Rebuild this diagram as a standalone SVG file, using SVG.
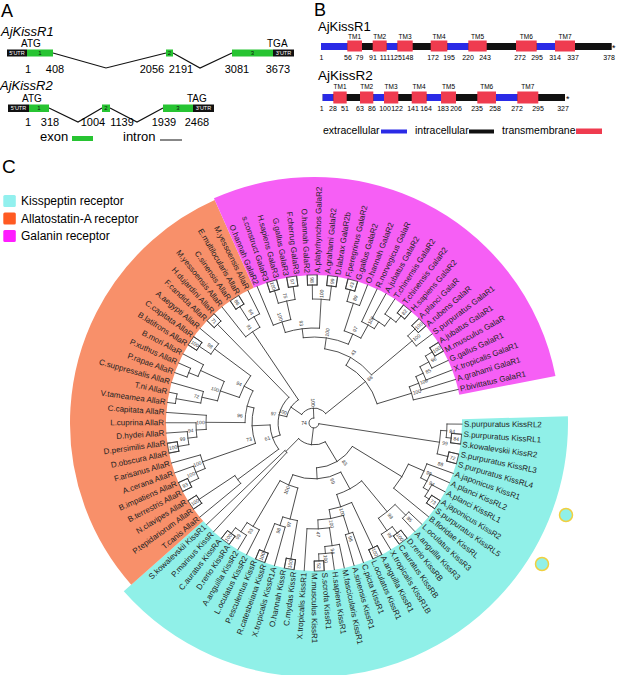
<svg xmlns="http://www.w3.org/2000/svg" width="617" height="675" viewBox="0 0 617 675">
<style>
text{font-family:"Liberation Sans",Arial,sans-serif}
.lf{font-size:8px;fill:#222;dominant-baseline:central}
.e{text-anchor:end}
.bs{font-size:5px;fill:#333;text-anchor:middle;dominant-baseline:central}
.tr path,.tr circle,.tr rect{fill:none;stroke:#333;stroke-width:.8;stroke-linecap:square}
.bx rect{fill:none;stroke:#333;stroke-width:.7}
.n{font-size:11px;text-anchor:middle}
.s{font-size:7px;text-anchor:middle}
.tm{font-size:6.5px;text-anchor:middle}
.ut{font-size:5.5px;fill:#fff;text-anchor:middle}
.ex{font-size:6px;fill:#111;text-anchor:middle}
.w{fill:none}
</style>
<rect width="617" height="675" fill="#fff"/>

<g id="panel-A">
<text x="1" y="17" font-size="18">A</text>
<text x="1" y="36" font-size="13" font-style="italic">AjKissR1</text>
<text x="21" y="47" font-size="10">ATG</text>
<text x="267" y="47" font-size="10">TGA</text>
<polyline points="53,53 106,68 166,53" fill="none" stroke="#111" stroke-width="1.2"/>
<polyline points="173,53 200,68 232,53" fill="none" stroke="#111" stroke-width="1.2"/>
<rect x="7" y="49.5" width="20" height="7" fill="#111"/>
<rect x="27" y="49.5" width="26" height="7" fill="#27c432"/>
<rect x="166" y="49.5" width="7" height="7" fill="#27c432"/>
<rect x="232" y="49.5" width="41" height="7" fill="#27c432"/>
<rect x="273" y="49.5" width="21" height="7" fill="#111"/>
<text class="ut" x="17" y="55">5'UTR</text>
<text class="ex" x="40" y="55">1</text>
<text class="ex" x="169.5" y="55">2</text>
<text class="ex" x="252.5" y="55">3</text>
<text class="ut" x="283.5" y="55">3'UTR</text>
<text class="n" x="28" y="73">1</text>
<text class="n" x="55" y="73">408</text>
<text class="n" x="152" y="73">2056</text>
<text class="n" x="181" y="73">2191</text>
<text class="n" x="237" y="73">3081</text>
<text class="n" x="278" y="73">3673</text>
<text x="0" y="90" font-size="13" font-style="italic">AjKissR2</text>
<text x="22" y="102" font-size="10">ATG</text>
<text x="187" y="102" font-size="10">TAG</text>
<polyline points="49,108 78,122 102,108" fill="none" stroke="#111" stroke-width="1.2"/>
<polyline points="110,108 137,122 163,108" fill="none" stroke="#111" stroke-width="1.2"/>
<rect x="8" y="104.5" width="21" height="7.5" fill="#111"/>
<rect x="29" y="104.5" width="20" height="7.5" fill="#27c432"/>
<rect x="102" y="104.5" width="8" height="7.5" fill="#27c432"/>
<rect x="163" y="104.5" width="30" height="7.5" fill="#27c432"/>
<rect x="193" y="104.5" width="21" height="7.5" fill="#111"/>
<text class="ut" x="18.5" y="110.3">5'UTR</text>
<text class="ex" x="39" y="110.3">1</text>
<text class="ex" x="106" y="110.3">2</text>
<text class="ex" x="178" y="110.3">3</text>
<text class="ut" x="203.5" y="110.3">3'UTR</text>
<text class="n" x="28" y="126">1</text>
<text class="n" x="50" y="126">318</text>
<text class="n" x="93" y="126">1004</text>
<text class="n" x="122" y="126">1139</text>
<text class="n" x="164" y="126">1939</text>
<text class="n" x="197" y="126">2468</text>
<text x="40" y="141" font-size="13">exon</text>
<rect x="72" y="136" width="21" height="5" fill="#27c432"/>
<text x="123" y="141" font-size="13">intron</text>
<line x1="160" y1="140" x2="182" y2="140" stroke="#111" stroke-width="1"/>
</g>

<g id="panel-B">
<text x="314" y="15.5" font-size="18">B</text>
<text x="318" y="31" font-size="13">AjKissR1</text>
<rect x="321" y="43" width="290.7" height="7" fill="#111"/>
<g fill="#2a2ae6">
<rect x="321" y="43" width="26.3" height="7"/>
<rect x="386.7" y="43" width="10.6" height="7"/>
<rect x="447.3" y="43" width="21" height="7"/>
<rect x="536.7" y="43" width="18.3" height="7"/>
</g>
<g fill="#ef3b4f">
<rect x="347.3" y="40.5" width="14.7" height="11"/>
<rect x="372.7" y="40.5" width="14" height="11"/>
<rect x="397.3" y="40.5" width="15.4" height="11"/>
<rect x="430.7" y="40.5" width="16.6" height="11"/>
<rect x="468.3" y="40.5" width="18.4" height="11"/>
<rect x="516" y="40.5" width="20.7" height="11"/>
<rect x="555" y="40.5" width="20" height="11"/>
</g>
<text x="612" y="51" font-size="9">*</text>
<text class="tm" x="354.6" y="39">TM1</text>
<text class="tm" x="379.7" y="39">TM2</text>
<text class="tm" x="405" y="39">TM3</text>
<text class="tm" x="439" y="39">TM4</text>
<text class="tm" x="477.5" y="39">TM5</text>
<text class="tm" x="526.3" y="39">TM6</text>
<text class="tm" x="565" y="39">TM7</text>
<text class="s" x="321.5" y="59.5">1</text>
<text class="s" x="348" y="59.5">56</text>
<text class="s" x="359.5" y="59.5">79</text>
<text class="s" x="373" y="59.5">91</text>
<text class="s" x="385" y="59.5">111</text>
<text class="s" x="396" y="59.5">125</text>
<text class="s" x="407.5" y="59.5">148</text>
<text class="s" x="433" y="59.5">172</text>
<text class="s" x="449" y="59.5">195</text>
<text class="s" x="468" y="59.5">220</text>
<text class="s" x="485" y="59.5">243</text>
<text class="s" x="520" y="59.5">272</text>
<text class="s" x="537" y="59.5">295</text>
<text class="s" x="555" y="59.5">314</text>
<text class="s" x="573" y="59.5">337</text>
<text class="s" x="609" y="59.5">378</text>
<text x="318" y="79.5" font-size="13.5">AjKissR2</text>
<rect x="322.7" y="94" width="242.3" height="7" fill="#111"/>
<g fill="#2a2ae6">
<rect x="322.7" y="94" width="10.6" height="7"/>
<rect x="373.3" y="94" width="10.7" height="7"/>
<rect x="426.7" y="94" width="14.3" height="7"/>
<rect x="496" y="94" width="21.3" height="7"/>
</g>
<g fill="#ef3b4f">
<rect x="333.3" y="91.5" width="13.4" height="12"/>
<rect x="360" y="91.5" width="13.3" height="12"/>
<rect x="384" y="91.5" width="14.3" height="12"/>
<rect x="411.7" y="91.5" width="15" height="12"/>
<rect x="441" y="91.5" width="15" height="12"/>
<rect x="477.3" y="91.5" width="18.7" height="12"/>
<rect x="517.3" y="91.5" width="21" height="12"/>
</g>
<text x="566" y="102" font-size="9">*</text>
<text class="tm" x="340" y="89">TM1</text>
<text class="tm" x="366.7" y="89">TM2</text>
<text class="tm" x="391" y="89">TM3</text>
<text class="tm" x="419" y="89">TM4</text>
<text class="tm" x="448.5" y="89">TM5</text>
<text class="tm" x="486.7" y="89">TM6</text>
<text class="tm" x="527.8" y="89">TM7</text>
<text class="s" x="321.7" y="110.5">1</text>
<text class="s" x="333" y="110.5">28</text>
<text class="s" x="345" y="110.5">51</text>
<text class="s" x="360" y="110.5">63</text>
<text class="s" x="372" y="110.5">86</text>
<text class="s" x="385" y="110.5">100</text>
<text class="s" x="397" y="110.5">122</text>
<text class="s" x="413" y="110.5">141</text>
<text class="s" x="426" y="110.5">164</text>
<text class="s" x="443" y="110.5">183</text>
<text class="s" x="456" y="110.5">206</text>
<text class="s" x="477" y="110.5">235</text>
<text class="s" x="495" y="110.5">258</text>
<text class="s" x="517" y="110.5">272</text>
<text class="s" x="538" y="110.5">295</text>
<text class="s" x="563" y="110.5">327</text>
<text x="323" y="134" font-size="10.5">extracellular</text>
<rect x="381" y="129.5" width="26" height="4" fill="#2a2ae6"/>
<text x="415" y="134" font-size="10.5">intracellular</text>
<rect x="469" y="129.5" width="25" height="4" fill="#111"/>
<text x="502" y="134" font-size="10.5">transmembrane</text>
<rect x="576" y="128.5" width="26" height="5.5" fill="#ef3b4f"/>
</g>

<g id="legend-C">
<text x="2" y="173" font-size="19">C</text>
<rect x="3.3" y="195" width="12.5" height="12" rx="1.5" fill="#92f0ee"/>
<rect x="3.3" y="212.5" width="12.5" height="12" rx="1.5" fill="#ff5a22"/>
<rect x="3.3" y="230" width="12.5" height="12" rx="1.5" fill="#ff1dff"/>
<text x="21" y="205" font-size="12">Kisspeptin receptor</text>
<text x="21" y="222.5" font-size="12">Allatostatin-A receptor</text>
<text x="21" y="240" font-size="12">Galanin receptor</text>
</g>

<g id="wedges" transform="translate(314,423)">
<circle class="w" r="201" stroke="#90f0e8" stroke-width="106" pathLength="360" stroke-dasharray="140 400" transform="rotate(-1.5)"/>
<circle class="w" r="196" stroke="#f8906a" stroke-width="96" pathLength="360" stroke-dasharray="107.5 400" transform="rotate(138.5)"/>
<circle class="w" r="197" stroke="#f65ff5" stroke-width="98" pathLength="360" stroke-dasharray="103 400" transform="rotate(246)"/>
</g>
<g id="markers">
<circle cx="566" cy="515" r="6.5" fill="#90f0e8" stroke="#f0d040" stroke-width="1.5"/>
<circle cx="542" cy="564" r="6.5" fill="#90f0e8" stroke="#f0d040" stroke-width="1.5"/>
</g>

<g id="connectors" class="tr" transform="translate(314,423)">
<circle r="138" pathLength="360" stroke-dasharray="3.89 400" transform="rotate(4.33)"/>
<circle r="133" pathLength="360" stroke-dasharray="5.84 400" transform="rotate(0.44)"/>
<circle r="138" pathLength="360" stroke-dasharray="3.89 400" transform="rotate(12.11)"/>
<circle r="127" pathLength="360" stroke-dasharray="10.7 400" transform="rotate(3.36)"/>
<circle r="138" pathLength="360" stroke-dasharray="3.8 400" transform="rotate(31.6)"/>
<circle r="133" pathLength="360" stroke-dasharray="5.8 400" transform="rotate(27.7)"/>
<circle r="127" pathLength="360" stroke-dasharray="6.8 400" transform="rotate(23.8)"/>
<circle r="120" pathLength="360" stroke-dasharray="7.3 400" transform="rotate(19.9)"/>
<circle r="103" pathLength="360" stroke-dasharray="15.75 400" transform="rotate(23.55)"/>
<circle r="130" pathLength="360" stroke-dasharray="3.9 400" transform="rotate(43.2)"/>
<circle r="138" pathLength="360" stroke-dasharray="3.9 400" transform="rotate(51)"/>
<circle r="130" pathLength="360" stroke-dasharray="5.85 400" transform="rotate(52.95)"/>
<circle r="115" pathLength="360" stroke-dasharray="10.75 400" transform="rotate(45.15)"/>
<circle r="138" pathLength="360" stroke-dasharray="3.9 400" transform="rotate(62.7)"/>
<circle r="116" pathLength="360" stroke-dasharray="3.8 400" transform="rotate(70.5)"/>
<circle r="138" pathLength="360" stroke-dasharray="3.9 400" transform="rotate(86)"/>
<circle r="131" pathLength="360" stroke-dasharray="5.85 400" transform="rotate(82.1)"/>
<circle r="124" pathLength="360" stroke-dasharray="6.8 400" transform="rotate(78.2)"/>
<circle r="106" pathLength="360" stroke-dasharray="12.2 400" transform="rotate(81.6)"/>
<circle r="97" pathLength="360" stroke-dasharray="15.3 400" transform="rotate(72.4)"/>
<circle r="88" pathLength="360" stroke-dasharray="15.4 400" transform="rotate(64.65)"/>
<circle r="75" pathLength="360" stroke-dasharray="21.85 400" transform="rotate(50.5)"/>
<circle r="138" pathLength="360" stroke-dasharray="3.9 400" transform="rotate(97.7)"/>
<circle r="138" pathLength="360" stroke-dasharray="3.9 400" transform="rotate(109.4)"/>
<circle r="108" pathLength="360" stroke-dasharray="5.85 400" transform="rotate(105.5)"/>
<circle r="99" pathLength="360" stroke-dasharray="8.75 400" transform="rotate(99.65)"/>
<circle r="138" pathLength="360" stroke-dasharray="3.9 400" transform="rotate(124.9)"/>
<circle r="131" pathLength="360" stroke-dasharray="5.85 400" transform="rotate(121)"/>
<circle r="120" pathLength="360" stroke-dasharray="6.8 400" transform="rotate(117.1)"/>
<circle r="67" pathLength="360" stroke-dasharray="16.5 400" transform="rotate(104)"/>
<circle r="56" pathLength="360" stroke-dasharray="50.85 400" transform="rotate(61.4)"/>
<circle r="45" pathLength="360" stroke-dasharray="55.4 400" transform="rotate(31.4)"/>
<circle r="40" pathLength="360" stroke-dasharray="3.9 400" transform="rotate(132.7)"/>
<circle r="22" pathLength="360" stroke-dasharray="75.55 400" transform="rotate(59.1)"/>
<circle r="138" pathLength="360" stroke-dasharray="4 400" transform="rotate(144.4)"/>
<circle r="95" pathLength="360" stroke-dasharray="5.9 400" transform="rotate(140.5)"/>
<circle r="138" pathLength="360" stroke-dasharray="3.9 400" transform="rotate(152.4)"/>
<circle r="128" pathLength="360" stroke-dasharray="5.95 400" transform="rotate(154.35)"/>
<circle r="118" pathLength="360" stroke-dasharray="7 400" transform="rotate(157.3)"/>
<circle r="138" pathLength="360" stroke-dasharray="4 400" transform="rotate(168.2)"/>
<circle r="127" pathLength="360" stroke-dasharray="5.9 400" transform="rotate(170.2)"/>
<circle r="118" pathLength="360" stroke-dasharray="6.95 400" transform="rotate(173.15)"/>
<circle r="108" pathLength="360" stroke-dasharray="7.5 400" transform="rotate(176.6)"/>
<circle r="140" pathLength="360" stroke-dasharray="4 400" transform="rotate(188)"/>
<circle r="115" pathLength="360" stroke-dasharray="5.9 400" transform="rotate(190)"/>
<circle r="135" pathLength="360" stroke-dasharray="4 400" transform="rotate(199.9)"/>
<circle r="125" pathLength="360" stroke-dasharray="5.9 400" transform="rotate(201.9)"/>
<circle r="99" pathLength="360" stroke-dasharray="11.9 400" transform="rotate(192.95)"/>
<circle r="138" pathLength="360" stroke-dasharray="3.9 400" transform="rotate(211.8)"/>
<circle r="124" pathLength="360" stroke-dasharray="5.95 400" transform="rotate(213.75)"/>
<circle r="79" pathLength="360" stroke-dasharray="17.8 400" transform="rotate(198.9)"/>
<circle r="69" pathLength="360" stroke-dasharray="27.45 400" transform="rotate(180.35)"/>
<circle r="62" pathLength="360" stroke-dasharray="33.3 400" transform="rotate(160.8)"/>
<circle r="44" pathLength="360" stroke-dasharray="34 400" transform="rotate(143.45)"/>
<circle r="138" pathLength="360" stroke-dasharray="3.9 400" transform="rotate(223.7)"/>
<circle r="36" pathLength="360" stroke-dasharray="65.2 400" transform="rotate(160.45)"/>
<circle r="138" pathLength="360" stroke-dasharray="4 400" transform="rotate(235.5)"/>
<circle r="122" pathLength="360" stroke-dasharray="6 400" transform="rotate(237.5)"/>
<circle r="110" pathLength="360" stroke-dasharray="8.9 400" transform="rotate(231.6)"/>
<circle r="28" pathLength="360" stroke-dasharray="43 400" transform="rotate(193.05)"/>
<circle r="138" pathLength="360" stroke-dasharray="4 400" transform="rotate(251.4)"/>
<circle r="138" pathLength="360" stroke-dasharray="4 400" transform="rotate(259.3)"/>
<circle r="125" pathLength="360" stroke-dasharray="7.9 400" transform="rotate(253.4)"/>
<circle r="106" pathLength="360" stroke-dasharray="9.95 400" transform="rotate(247.4)"/>
<circle r="138" pathLength="360" stroke-dasharray="4 400" transform="rotate(267.3)"/>
<circle r="138" pathLength="360" stroke-dasharray="3.9 400" transform="rotate(275.3)"/>
<circle r="124" pathLength="360" stroke-dasharray="7.95 400" transform="rotate(269.3)"/>
<circle r="95" pathLength="360" stroke-dasharray="20.9 400" transform="rotate(252.4)"/>
<circle r="138" pathLength="360" stroke-dasharray="4 400" transform="rotate(283.2)"/>
<circle r="126" pathLength="360" stroke-dasharray="6 400" transform="rotate(285.2)"/>
<circle r="138" pathLength="360" stroke-dasharray="4 400" transform="rotate(307.1)"/>
<circle r="130" pathLength="360" stroke-dasharray="6 400" transform="rotate(303.1)"/>
<circle r="120" pathLength="360" stroke-dasharray="7 400" transform="rotate(299.1)"/>
<circle r="112" pathLength="360" stroke-dasharray="7.4 400" transform="rotate(295.2)"/>
<circle r="97" pathLength="360" stroke-dasharray="10.7 400" transform="rotate(288.2)"/>
<circle r="86" pathLength="360" stroke-dasharray="30.7 400" transform="rotate(262.85)"/>
<circle r="138" pathLength="360" stroke-dasharray="4 400" transform="rotate(315.1)"/>
<circle r="128" pathLength="360" stroke-dasharray="5.9 400" transform="rotate(317.1)"/>
<circle r="75" pathLength="360" stroke-dasharray="41.85 400" transform="rotate(278.2)"/>
<circle r="138" pathLength="360" stroke-dasharray="4 400" transform="rotate(327)"/>
<circle r="130" pathLength="360" stroke-dasharray="6 400" transform="rotate(329)"/>
<circle r="120" pathLength="360" stroke-dasharray="7 400" transform="rotate(332)"/>
<circle r="112" pathLength="360" stroke-dasharray="7.4 400" transform="rotate(335.5)"/>
<circle r="102" pathLength="360" stroke-dasharray="7.7 400" transform="rotate(339.2)"/>
<circle r="66" pathLength="360" stroke-dasharray="43.95 400" transform="rotate(299.1)"/>
<circle r="15" pathLength="360" stroke-dasharray="106.55 400" transform="rotate(214.55)"/>
<circle r="5" pathLength="360" stroke-dasharray="259.1 400" transform="rotate(8.71)"/>
<path d="M138 0H148" transform="rotate(4.33)"/><path d="M138 0H148" transform="rotate(8.22)"/>
<path d="M133 0H148" transform="rotate(0.44)"/><path d="M133 0H138" transform="rotate(6.28)"/>
<path d="M138 0H148" transform="rotate(12.11)"/><path d="M138 0H148" transform="rotate(16)"/>
<path d="M127 0H133" transform="rotate(3.36)"/><path d="M127 0H138" transform="rotate(14.06)"/>
<path d="M138 0H148" transform="rotate(31.6)"/><path d="M138 0H148" transform="rotate(35.4)"/>
<path d="M133 0H148" transform="rotate(27.7)"/><path d="M133 0H138" transform="rotate(33.5)"/>
<path d="M127 0H148" transform="rotate(23.8)"/><path d="M127 0H133" transform="rotate(30.6)"/>
<path d="M120 0H148" transform="rotate(19.9)"/><path d="M120 0H127" transform="rotate(27.2)"/>
<path d="M103 0H120" transform="rotate(23.55)"/><path d="M103 0H148" transform="rotate(39.3)"/>
<path d="M130 0H148" transform="rotate(43.2)"/><path d="M130 0H148" transform="rotate(47.1)"/>
<path d="M138 0H148" transform="rotate(51)"/><path d="M138 0H148" transform="rotate(54.9)"/>
<path d="M130 0H138" transform="rotate(52.95)"/><path d="M130 0H148" transform="rotate(58.8)"/>
<path d="M115 0H130" transform="rotate(45.15)"/><path d="M115 0H130" transform="rotate(55.9)"/>
<path d="M138 0H148" transform="rotate(62.7)"/><path d="M138 0H148" transform="rotate(66.6)"/>
<path d="M116 0H148" transform="rotate(70.5)"/><path d="M116 0H148" transform="rotate(74.3)"/>
<path d="M138 0H148" transform="rotate(86)"/><path d="M138 0H148" transform="rotate(89.9)"/>
<path d="M131 0H148" transform="rotate(82.1)"/><path d="M131 0H138" transform="rotate(87.95)"/>
<path d="M124 0H148" transform="rotate(78.2)"/><path d="M124 0H131" transform="rotate(85)"/>
<path d="M106 0H124" transform="rotate(81.6)"/><path d="M106 0H148" transform="rotate(93.8)"/>
<path d="M97 0H116" transform="rotate(72.4)"/><path d="M97 0H106" transform="rotate(87.7)"/>
<path d="M88 0H138" transform="rotate(64.65)"/><path d="M88 0H97" transform="rotate(80.05)"/>
<path d="M75 0H115" transform="rotate(50.5)"/><path d="M75 0H88" transform="rotate(72.35)"/>
<path d="M138 0H148" transform="rotate(97.7)"/><path d="M138 0H148" transform="rotate(101.6)"/>
<path d="M138 0H148" transform="rotate(109.4)"/><path d="M138 0H148" transform="rotate(113.3)"/>
<path d="M108 0H148" transform="rotate(105.5)"/><path d="M108 0H138" transform="rotate(111.35)"/>
<path d="M99 0H138" transform="rotate(99.65)"/><path d="M99 0H108" transform="rotate(108.4)"/>
<path d="M138 0H148" transform="rotate(124.9)"/><path d="M138 0H148" transform="rotate(128.8)"/>
<path d="M131 0H148" transform="rotate(121)"/><path d="M131 0H138" transform="rotate(126.85)"/>
<path d="M120 0H148" transform="rotate(117.1)"/><path d="M120 0H131" transform="rotate(123.9)"/>
<path d="M67 0H99" transform="rotate(104)"/><path d="M67 0H120" transform="rotate(120.5)"/>
<path d="M56 0H75" transform="rotate(61.4)"/><path d="M56 0H67" transform="rotate(112.25)"/>
<path d="M45 0H103" transform="rotate(31.4)"/><path d="M45 0H56" transform="rotate(86.8)"/>
<path d="M40 0H148" transform="rotate(132.7)"/><path d="M40 0H148" transform="rotate(136.6)"/>
<path d="M22 0H45" transform="rotate(59.1)"/><path d="M22 0H40" transform="rotate(134.65)"/>
<path d="M138 0H148" transform="rotate(144.4)"/><path d="M138 0H148" transform="rotate(148.4)"/>
<path d="M95 0H148" transform="rotate(140.5)"/><path d="M95 0H138" transform="rotate(146.4)"/>
<path d="M138 0H148" transform="rotate(152.4)"/><path d="M138 0H148" transform="rotate(156.3)"/>
<path d="M128 0H138" transform="rotate(154.35)"/><path d="M128 0H148" transform="rotate(160.3)"/>
<path d="M118 0H128" transform="rotate(157.3)"/><path d="M118 0H148" transform="rotate(164.3)"/>
<path d="M138 0H148" transform="rotate(168.2)"/><path d="M138 0H148" transform="rotate(172.2)"/>
<path d="M127 0H138" transform="rotate(170.2)"/><path d="M127 0H148" transform="rotate(176.1)"/>
<path d="M118 0H127" transform="rotate(173.15)"/><path d="M118 0H148" transform="rotate(180.1)"/>
<path d="M108 0H118" transform="rotate(176.6)"/><path d="M108 0H148" transform="rotate(184.1)"/>
<path d="M140 0H148" transform="rotate(188)"/><path d="M140 0H148" transform="rotate(192)"/>
<path d="M115 0H140" transform="rotate(190)"/><path d="M115 0H148" transform="rotate(195.9)"/>
<path d="M135 0H148" transform="rotate(199.9)"/><path d="M135 0H148" transform="rotate(203.9)"/>
<path d="M125 0H135" transform="rotate(201.9)"/><path d="M125 0H148" transform="rotate(207.8)"/>
<path d="M99 0H115" transform="rotate(192.95)"/><path d="M99 0H125" transform="rotate(204.85)"/>
<path d="M138 0H148" transform="rotate(211.8)"/><path d="M138 0H148" transform="rotate(215.7)"/>
<path d="M124 0H138" transform="rotate(213.75)"/><path d="M124 0H148" transform="rotate(219.7)"/>
<path d="M79 0H99" transform="rotate(198.9)"/><path d="M79 0H124" transform="rotate(216.7)"/>
<path d="M69 0H108" transform="rotate(180.35)"/><path d="M69 0H79" transform="rotate(207.8)"/>
<path d="M62 0H118" transform="rotate(160.8)"/><path d="M62 0H69" transform="rotate(194.1)"/>
<path d="M44 0H95" transform="rotate(143.45)"/><path d="M44 0H62" transform="rotate(177.45)"/>
<path d="M138 0H148" transform="rotate(223.7)"/><path d="M138 0H148" transform="rotate(227.6)"/>
<path d="M36 0H44" transform="rotate(160.45)"/><path d="M36 0H138" transform="rotate(225.65)"/>
<path d="M138 0H148" transform="rotate(235.5)"/><path d="M138 0H148" transform="rotate(239.5)"/>
<path d="M122 0H138" transform="rotate(237.5)"/><path d="M122 0H148" transform="rotate(243.5)"/>
<path d="M110 0H148" transform="rotate(231.6)"/><path d="M110 0H122" transform="rotate(240.5)"/>
<path d="M28 0H36" transform="rotate(193.05)"/><path d="M28 0H110" transform="rotate(236.05)"/>
<path d="M138 0H148" transform="rotate(251.4)"/><path d="M138 0H148" transform="rotate(255.4)"/>
<path d="M138 0H148" transform="rotate(259.3)"/><path d="M138 0H148" transform="rotate(263.3)"/>
<path d="M125 0H138" transform="rotate(253.4)"/><path d="M125 0H138" transform="rotate(261.3)"/>
<path d="M106 0H148" transform="rotate(247.4)"/><path d="M106 0H125" transform="rotate(257.35)"/>
<path d="M138 0H148" transform="rotate(267.3)"/><path d="M138 0H148" transform="rotate(271.3)"/>
<path d="M138 0H148" transform="rotate(275.3)"/><path d="M138 0H148" transform="rotate(279.2)"/>
<path d="M124 0H138" transform="rotate(269.3)"/><path d="M124 0H138" transform="rotate(277.25)"/>
<path d="M95 0H106" transform="rotate(252.4)"/><path d="M95 0H124" transform="rotate(273.3)"/>
<path d="M138 0H148" transform="rotate(283.2)"/><path d="M138 0H148" transform="rotate(287.2)"/>
<path d="M126 0H138" transform="rotate(285.2)"/><path d="M126 0H148" transform="rotate(291.2)"/>
<path d="M138 0H148" transform="rotate(307.1)"/><path d="M138 0H148" transform="rotate(311.1)"/>
<path d="M130 0H148" transform="rotate(303.1)"/><path d="M130 0H138" transform="rotate(309.1)"/>
<path d="M120 0H148" transform="rotate(299.1)"/><path d="M120 0H130" transform="rotate(306.1)"/>
<path d="M112 0H148" transform="rotate(295.2)"/><path d="M112 0H120" transform="rotate(302.6)"/>
<path d="M97 0H126" transform="rotate(288.2)"/><path d="M97 0H112" transform="rotate(298.9)"/>
<path d="M86 0H95" transform="rotate(262.85)"/><path d="M86 0H97" transform="rotate(293.55)"/>
<path d="M138 0H148" transform="rotate(315.1)"/><path d="M138 0H148" transform="rotate(319.1)"/>
<path d="M128 0H138" transform="rotate(317.1)"/><path d="M128 0H148" transform="rotate(323)"/>
<path d="M75 0H86" transform="rotate(278.2)"/><path d="M75 0H128" transform="rotate(320.05)"/>
<path d="M138 0H148" transform="rotate(327)"/><path d="M138 0H148" transform="rotate(331)"/>
<path d="M130 0H138" transform="rotate(329)"/><path d="M130 0H148" transform="rotate(335)"/>
<path d="M120 0H130" transform="rotate(332)"/><path d="M120 0H148" transform="rotate(339)"/>
<path d="M112 0H120" transform="rotate(335.5)"/><path d="M112 0H148" transform="rotate(342.9)"/>
<path d="M102 0H112" transform="rotate(339.2)"/><path d="M102 0H148" transform="rotate(346.9)"/>
<path d="M66 0H75" transform="rotate(299.1)"/><path d="M66 0H102" transform="rotate(343.05)"/>
<path d="M15 0H28" transform="rotate(214.55)"/><path d="M15 0H66" transform="rotate(321.1)"/>
<path d="M5 0H127" transform="rotate(8.71)"/><path d="M5 0H22" transform="rotate(96.9)"/><path d="M5 0H15" transform="rotate(267.8)"/>
</g>

<g id="bootstrap" transform="translate(314,423)">
<g class="bx">
<g transform="rotate(6.28) translate(143)"><rect x="-5" y="-4.8" width="10" height="9.6"/><text class="bs">84</text></g>
<g transform="rotate(14.06) translate(143)"><rect x="-5" y="-4.8" width="10" height="9.6"/><text class="bs">72</text></g>
<g transform="rotate(33.5) translate(143)"><rect x="-5" y="-4.8" width="10" height="9.6"/><text class="bs">73</text></g>
<g transform="rotate(52.95) translate(143)"><rect x="-5" y="-4.8" width="10" height="9.6"/><text class="bs">100</text></g>
<g transform="rotate(64.65) translate(143)"><rect x="-5" y="-4.8" width="10" height="9.6"/><text class="bs">100</text></g>
<g transform="rotate(87.95) translate(143)"><rect x="-5" y="-4.8" width="10" height="9.6"/><text class="bs">52</text></g>
<g transform="rotate(-80.35) translate(-143)"><rect x="-5" y="-4.8" width="10" height="9.6"/><text class="bs">100</text></g>
<g transform="rotate(-68.65) translate(-143)"><rect x="-5" y="-4.8" width="10" height="9.6"/><text class="bs">100</text></g>
<g transform="rotate(-53.15) translate(-143)"><rect x="-5" y="-4.8" width="10" height="9.6"/><text class="bs">100</text></g>
<g transform="rotate(-33.6) translate(-143)"><rect x="-5" y="-4.8" width="10" height="9.6"/><text class="bs">100</text></g>
<g transform="rotate(-25.65) translate(-143)"><rect x="-5" y="-4.8" width="10" height="9.6"/><text class="bs">93</text></g>
<g transform="rotate(-9.8) translate(-143)"><rect x="-5" y="-4.8" width="10" height="9.6"/><text class="bs">100</text></g>
<g transform="rotate(33.75) translate(-143)"><rect x="-5" y="-4.8" width="10" height="9.6"/><text class="bs">100</text></g>
<g transform="rotate(45.65) translate(-143)"><rect x="-5" y="-4.8" width="10" height="9.6"/><text class="bs">71</text></g>
<g transform="rotate(57.5) translate(-143)"><rect x="-5" y="-4.8" width="10" height="9.6"/><text class="bs">86</text></g>
<g transform="rotate(73.4) translate(-143)"><rect x="-5" y="-4.8" width="10" height="9.6"/><text class="bs">100</text></g>
<g transform="rotate(81.3) translate(-143)"><rect x="-5" y="-4.8" width="10" height="9.6"/><text class="bs">97</text></g>
<g transform="rotate(89.3) translate(-143)"><rect x="-5" y="-4.8" width="10" height="9.6"/><text class="bs">98</text></g>
<g transform="rotate(277.25) translate(143)"><rect x="-5" y="-4.8" width="10" height="9.6"/><text class="bs">99</text></g>
<g transform="rotate(285.2) translate(143)"><rect x="-5" y="-4.8" width="10" height="9.6"/><text class="bs">43</text></g>
<g transform="rotate(309.1) translate(143)"><rect x="-5" y="-4.8" width="10" height="9.6"/><text class="bs">82</text></g>
<g transform="rotate(317.1) translate(143)"><rect x="-5" y="-4.8" width="10" height="9.6"/><text class="bs">100</text></g>
<g transform="rotate(329) translate(143)"><rect x="-5" y="-4.8" width="10" height="9.6"/><text class="bs">100</text></g>
</g>
<text class="bs" transform="rotate(8.71) translate(132.5)">99</text>
<text class="bs" transform="rotate(3.36) translate(138.5)">84</text>
<text class="bs" transform="rotate(17.9) translate(133)">88</text>
<text class="bs" transform="rotate(27.2) translate(132.5)">94</text>
<text class="bs" transform="rotate(23.55) translate(125.5)">99</text>
<text class="bs" transform="rotate(45.15) translate(135.5)">85</text>
<text class="bs" transform="rotate(55.9) translate(135.5)">98</text>
<text class="bs" transform="rotate(50.5) translate(120.5)">99</text>
<text class="bs" transform="rotate(72.4) translate(121.5)">98</text>
<text class="bs" transform="rotate(85) translate(136.5)">100</text>
<text class="bs" transform="rotate(81.6) translate(129.5)">94</text>
<text class="bs" transform="rotate(87.7) translate(111.5)">47</text>
<text class="bs" transform="rotate(80.05) translate(102.5)">100</text>
<text class="bs" transform="rotate(72.35) translate(93.5)">100</text>
<text class="bs" transform="rotate(72) translate(61)">69</text>
<text class="bs" transform="rotate(52) translate(50)">83</text>
<text class="bs" transform="rotate(-71.6) translate(-113.5)">98</text>
<text class="bs" transform="rotate(-76) translate(-104.5)">97</text>
<text class="bs" transform="rotate(-56.1) translate(-136.5)">99</text>
<text class="bs" transform="rotate(-59.5) translate(-125.5)">93</text>
<text class="bs" transform="rotate(-67.75) translate(-72.5)">100</text>
<text class="bs" transform="rotate(-22.7) translate(-133.5)">100</text>
<text class="bs" transform="rotate(-19.2) translate(-123.5)">100</text>
<text class="bs" transform="rotate(-6.85) translate(-132.5)">99</text>
<text class="bs" transform="rotate(-3.4) translate(-123.5)">94</text>
<text class="bs" transform="rotate(0.35) translate(-113.5)">100</text>
<text class="bs" transform="rotate(12.95) translate(-120.5)">72</text>
<text class="bs" transform="rotate(18.9) translate(-104.5)">100</text>
<text class="bs" transform="rotate(36.7) translate(-129.5)">98</text>
<text class="bs" transform="rotate(27.8) translate(-84.5)">94</text>
<text class="bs" transform="rotate(6) translate(-74.5)">96</text>
<text class="bs" transform="rotate(-14) translate(-67)">73</text>
<text class="bs" transform="rotate(-18) translate(-49)">61</text>
<text class="bs" transform="rotate(13) translate(-41.5)">97</text>
<text class="bs" transform="rotate(56.05) translate(-115.5)">91</text>
<text class="bs" transform="rotate(60.5) translate(-127.5)">64</text>
<text class="bs" transform="rotate(20) translate(-33)">100</text>
<text class="bs" transform="rotate(77.35) translate(-130.5)">75</text>
<text class="bs" transform="rotate(72.4) translate(-111.5)">100</text>
<text class="bs" transform="rotate(82.85) translate(-100.5)">93</text>
<text class="bs" transform="rotate(0) translate(-10)">74</text>
<text class="bs" transform="rotate(87.8) translate(-20.5)">100</text>
<text class="bs" transform="rotate(273.3) translate(129.5)">100</text>
<text class="bs" transform="rotate(288.2) translate(131.5)">89</text>
<text class="bs" transform="rotate(298.9) translate(117.5)">100</text>
<text class="bs" transform="rotate(293.55) translate(102.5)">97</text>
<text class="bs" transform="rotate(278.2) translate(91.5)">100</text>
<text class="bs" transform="rotate(320.05) translate(133.5)">100</text>
<text class="bs" transform="rotate(299.1) translate(80.5)">43</text>
<text class="bs" transform="rotate(332) translate(135.5)">96</text>
<text class="bs" transform="rotate(335.5) translate(125.5)">85</text>
<text class="bs" transform="rotate(339.2) translate(117.5)">100</text>
<text class="bs" transform="rotate(343.05) translate(107.5)">100</text>
<text class="bs" transform="rotate(321.1) translate(71.5)">86</text>
</g>

<g id="leaves-kisspeptin" transform="translate(314,423)">
<text class="lf" x="150" transform="rotate(0.44)">S.purpuratus KissRL2</text>
<text class="lf" x="150" transform="rotate(4.33)">S.purpuratus KissRL1</text>
<text class="lf" x="150" transform="rotate(8.22)">S.kowalevskii KissR2</text>
<text class="lf" x="150" transform="rotate(12.11)">S.purpuratus KissRL3</text>
<text class="lf" x="150" transform="rotate(16)">S.purpuratus KissRL4</text>
<text class="lf" x="150" transform="rotate(19.9)">A.japonicus KissR1</text>
<text class="lf" x="150" transform="rotate(23.8)">A.planci KissRL2</text>
<text class="lf" x="150" transform="rotate(27.7)">A.planci KissRL1</text>
<text class="lf" x="150" transform="rotate(31.6)">A.japonicus KissR2</text>
<text class="lf" x="150" transform="rotate(35.4)">S.purpuratus KissRL5</text>
<text class="lf" x="150" transform="rotate(39.3)">B.floridae KissRL</text>
<text class="lf" x="150" transform="rotate(43.2)">L.oculatus KissR3</text>
<text class="lf" x="150" transform="rotate(47.1)">A.anguilla KissR3</text>
<text class="lf" x="150" transform="rotate(51)">D.rerio KissRB</text>
<text class="lf" x="150" transform="rotate(54.9)">C.auratus KissRB</text>
<text class="lf" x="150" transform="rotate(58.8)">X.tropicalis KissR1B</text>
<text class="lf" x="150" transform="rotate(62.7)">A.anguilla KissR1</text>
<text class="lf" x="150" transform="rotate(66.6)">L.oculatus KissR1</text>
<text class="lf" x="150" transform="rotate(70.5)">C.picta KissR1</text>
<text class="lf" x="150" transform="rotate(74.3)">A.sinensis KissR1</text>
<text class="lf" x="150" transform="rotate(78.2)">M.fascicularis KissR1</text>
<text class="lf" x="150" transform="rotate(82.1)">H.sapiens KissR1</text>
<text class="lf" x="150" transform="rotate(86)">S.scrofa KissR1</text>
<text class="lf" x="150" transform="rotate(89.9)">M.musculus KissR1</text>
<text class="lf e" x="-150" transform="rotate(-86.2)">X.tropicalis KissR1</text>
<text class="lf e" x="-150" transform="rotate(-82.3)">C.mydas KissR</text>
<text class="lf e" x="-150" transform="rotate(-78.4)">O.hannah KissR</text>
<text class="lf e" x="-150" transform="rotate(-74.5)">X.tropicalis KissR1A</text>
<text class="lf e" x="-150" transform="rotate(-70.6)">R.catesbeiana KissR</text>
<text class="lf e" x="-150" transform="rotate(-66.7)">P.esculentus KissR</text>
<text class="lf e" x="-150" transform="rotate(-62.9)">L.oculatus KissR2</text>
<text class="lf e" x="-150" transform="rotate(-59)">A.anguilla KissR2</text>
<text class="lf e" x="-150" transform="rotate(-55.1)">D.rerio KissRA</text>
<text class="lf e" x="-150" transform="rotate(-51.2)">C.auratus KissRA</text>
<text class="lf e" x="-150" transform="rotate(-47.3)">P.marinus KissR</text>
<text class="lf e" x="-150" transform="rotate(-43.4)">S.kowalevskii KissR1</text>
</g>

<g id="leaves-allatostatin" transform="translate(314,423)">
<text class="lf e" x="-150" transform="rotate(-39.5)">T.canis AllaR</text>
<text class="lf e" x="-150" transform="rotate(-35.6)">P.tepidariorum AllaR</text>
<text class="lf e" x="-150" transform="rotate(-31.6)">N.clavipes AllaR</text>
<text class="lf e" x="-150" transform="rotate(-27.6)">B.terrestris AllaR</text>
<text class="lf e" x="-150" transform="rotate(-23.7)">B.impatiens AllaR</text>
<text class="lf e" x="-150" transform="rotate(-19.7)">A.cerana AllaR</text>
<text class="lf e" x="-150" transform="rotate(-15.7)">F.arisanus AllaR</text>
<text class="lf e" x="-150" transform="rotate(-11.8)">D.obscura AllaR</text>
<text class="lf e" x="-150" transform="rotate(-7.8)">D.persimilis AllaR</text>
<text class="lf e" x="-150" transform="rotate(-3.9)">D.hydei AllaR</text>
<text class="lf e" x="-150" transform="rotate(0.1)">L.cuprina AllaR</text>
<text class="lf e" x="-150" transform="rotate(4.1)">C.capitata AllaR</text>
<text class="lf e" x="-150" transform="rotate(8)">V.tameamea AllaR</text>
<text class="lf e" x="-150" transform="rotate(12)">T.ni AllaR</text>
<text class="lf e" x="-150" transform="rotate(15.9)">C.suppressalis AllaR</text>
<text class="lf e" x="-150" transform="rotate(19.9)">P.rapae AllaR</text>
<text class="lf e" x="-150" transform="rotate(23.9)">P.xuthus AllaR</text>
<text class="lf e" x="-150" transform="rotate(27.8)">B.mori AllaR</text>
<text class="lf e" x="-150" transform="rotate(31.8)">B.latifrons AllaR</text>
<text class="lf e" x="-150" transform="rotate(35.7)">C.capitata AllaR</text>
<text class="lf e" x="-150" transform="rotate(39.7)">A.aegypti AllaR</text>
<text class="lf e" x="-150" transform="rotate(43.7)">F.candida AllaR</text>
<text class="lf e" x="-150" transform="rotate(47.6)">H.dujardini AllaR</text>
<text class="lf e" x="-150" transform="rotate(51.6)">M.yessoensis AllaR</text>
<text class="lf e" x="-150" transform="rotate(55.5)">C.sinensis AllaR</text>
<text class="lf e" x="-150" transform="rotate(59.5)">E.multilocularis AllaR</text>
<text class="lf e" x="-150" transform="rotate(63.5)">M.yessoensis AllaR</text>
</g>

<g id="leaves-galanin" transform="translate(314,423)">
<text class="lf e" x="-150" transform="rotate(67.4)">O.hannah GalaR2</text>
<text class="lf e" x="-150" transform="rotate(71.4)">s.construct GalaR3</text>
<text class="lf e" x="-150" transform="rotate(75.4)">H.sapiens GalaR3</text>
<text class="lf e" x="-150" transform="rotate(79.3)">G.gallus GalaR3</text>
<text class="lf e" x="-150" transform="rotate(83.3)">F.cherrug GalaR3</text>
<text class="lf e" x="-150" transform="rotate(87.3)">O.hannah GalaR2</text>
<text class="lf" x="150" transform="rotate(-88.7)">A.platyrhynchos GalaR2</text>
<text class="lf" x="150" transform="rotate(-84.7)">A.grahami GalaR2</text>
<text class="lf" x="150" transform="rotate(-80.8)">D.labrax GalaR2b</text>
<text class="lf" x="150" transform="rotate(-76.8)">F.peregrinus GalaR2</text>
<text class="lf" x="150" transform="rotate(-72.8)">G.gallus GalaR2</text>
<text class="lf" x="150" transform="rotate(-68.8)">O.hannah GalaR2</text>
<text class="lf" x="150" transform="rotate(-64.8)">R.norvegicus GalaR</text>
<text class="lf" x="150" transform="rotate(-60.9)">A.jubatus GalaR2</text>
<text class="lf" x="150" transform="rotate(-56.9)">T.chinensis GalaR2</text>
<text class="lf" x="150" transform="rotate(-52.9)">T.chinensis GalaR2</text>
<text class="lf" x="150" transform="rotate(-48.9)">H.sapiens GalaR2</text>
<text class="lf" x="150" transform="rotate(-44.9)">A.planci GalaR</text>
<text class="lf" x="150" transform="rotate(-40.9)">A.rubens GalaR</text>
<text class="lf" x="150" transform="rotate(-37)">S.purpuratus GalaR1</text>
<text class="lf" x="150" transform="rotate(-33)">A.jubatus GalaR1</text>
<text class="lf" x="150" transform="rotate(-29)">M.musculus GalaR</text>
<text class="lf" x="150" transform="rotate(-25)">G.gallus GalaR1</text>
<text class="lf" x="150" transform="rotate(-21)">X.tropicalis GalaR1</text>
<text class="lf" x="150" transform="rotate(-17.1)">A.grahami GalaR1</text>
<text class="lf" x="150" transform="rotate(-13.1)">P.bivittatus GalaR1</text>
</g>
</svg>
